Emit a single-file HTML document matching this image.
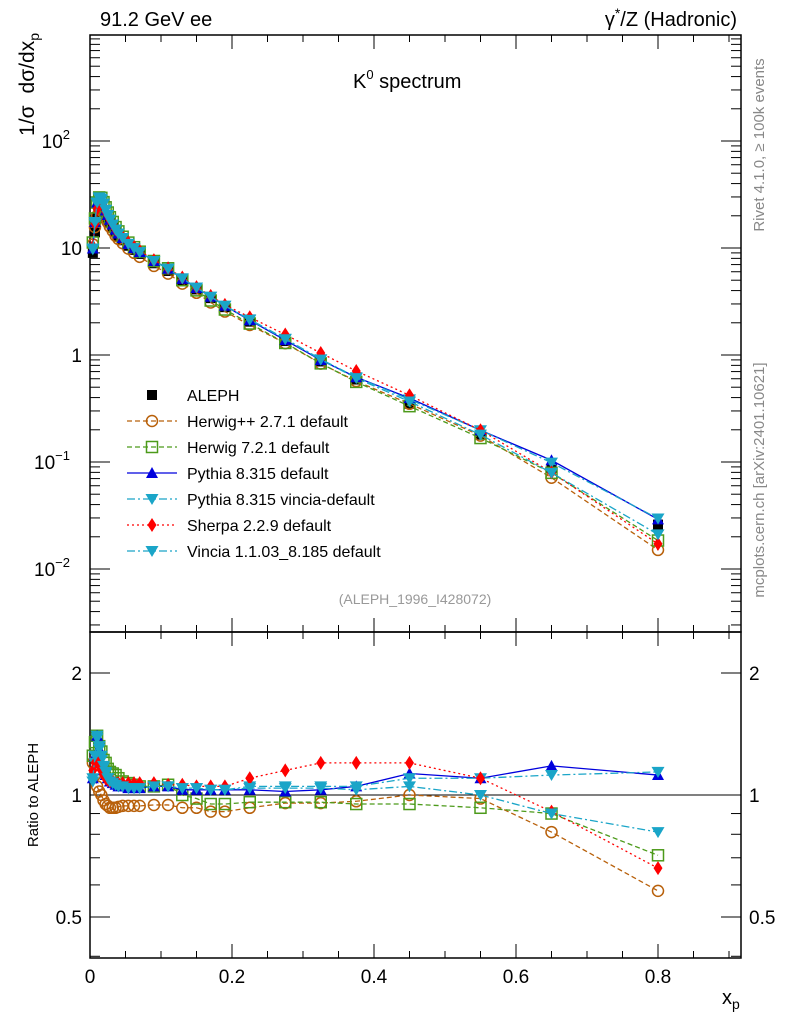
<!DOCTYPE html>
<html><head><meta charset="utf-8"><style>
body{margin:0;background:#fff;}
svg{display:block;font-family:"Liberation Sans",sans-serif;}
</style></head><body>
<svg id="c" width="786" height="1024" viewBox="0 0 786 1024"></svg>
<script>
const xs=[0.004,0.007,0.01,0.013,0.016,0.019,0.022,0.025,0.028,0.032,0.036,0.04,0.046,0.054,0.062,0.07,0.09,0.11,0.13,0.15,0.17,0.19,0.225,0.275,0.325,0.375,0.45,0.55,0.65,0.8];
const aleph=[9,14,19,22.5,23,22,20,18.5,17,15.5,14,13,11.8,10.5,9.6,8.8,7.2,6.1,5.0,4.1,3.4,2.8,2.05,1.35,0.87,0.59,0.35,0.18,0.088,0.026];
const rHerwigpp=[1.2,1.12,1.05,1.02,1.0,0.97,0.95,0.94,0.93,0.93,0.93,0.935,0.94,0.94,0.94,0.94,0.945,0.945,0.93,0.93,0.91,0.91,0.93,0.955,0.955,0.965,1.0,0.98,0.81,0.58];
const rHerwig7=[1.25,1.35,1.4,1.32,1.28,1.22,1.2,1.16,1.14,1.13,1.12,1.1,1.08,1.07,1.06,1.05,1.05,1.06,1.0,0.98,0.95,0.95,0.96,0.96,0.96,0.95,0.95,0.93,0.9,0.71];
const rPythia=[1.1,1.25,1.4,1.3,1.2,1.15,1.12,1.1,1.08,1.07,1.06,1.05,1.05,1.04,1.04,1.04,1.05,1.05,1.03,1.03,1.03,1.03,1.03,1.02,1.03,1.05,1.13,1.1,1.18,1.12];
const rVinciaDef=[1.08,1.2,1.38,1.3,1.22,1.17,1.13,1.1,1.08,1.07,1.06,1.05,1.05,1.04,1.04,1.04,1.05,1.05,1.04,1.04,1.03,1.03,1.05,1.05,1.05,1.05,1.1,1.1,1.12,1.14];
const rSherpa=[1.15,1.2,1.22,1.18,1.15,1.12,1.1,1.09,1.08,1.08,1.07,1.07,1.07,1.07,1.07,1.07,1.07,1.06,1.06,1.05,1.05,1.05,1.1,1.15,1.2,1.2,1.2,1.1,0.91,0.66];
const rVincia=[1.1,1.25,1.4,1.32,1.25,1.18,1.14,1.1,1.08,1.07,1.06,1.05,1.05,1.04,1.04,1.04,1.05,1.05,1.04,1.04,1.03,1.03,1.04,1.04,1.04,1.03,1.05,1.0,0.9,0.81];
const xTicks=[0,0.2,0.4,0.6,0.8];
const xTickLabels=["0","0.2","0.4","0.6","0.8"];
const legendLabels=["ALEPH","Herwig++ 2.7.1 default","Herwig 7.2.1 default","Pythia 8.315 default","Pythia 8.315 vincia-default","Sherpa 2.2.9 default","Vincia 1.1.03_8.185 default"];

const NS="http://www.w3.org/2000/svg";
const svg=document.getElementById('c');
const L=90,R=741,T=35,M=632,B=958;
const X=v=>L+v*710;
const Y=v=>355-107*Math.log10(v);
const YR=v=>795-405.3*Math.log10(v);
function el(tag,at,parent){const e=document.createElementNS(NS,tag);for(const k in at)e.setAttribute(k,at[k]);(parent||svg).appendChild(e);return e;}
function txt(s,at,parent){const e=el('text',at,parent);e.textContent=s;return e;}

let f1=el('rect',{x:L,y:T,width:R-L,height:M-T,fill:'none',stroke:'#000','stroke-width':1.5});


let f2=el('rect',{x:L,y:M,width:R-L,height:B-M,fill:'none',stroke:'#000','stroke-width':1.5});



const tg=el('g',{stroke:'#000','stroke-width':1});


for(let i=0;i<=18;i++){const v=i*0.05;const x=X(v);if(x>R)break;const big=i%4==0;const len=big?14:7;
 [[T,1],[M,-1],[M,1],[B,-1]].forEach(([y,d])=>el('line',{x1:x,x2:x,y1:y,y2:y+d*len},tg));}
const xl=el('g',{'font-size':19,'text-anchor':'middle'});


xTicks.forEach((v,i)=>txt(xTickLabels[i],{x:X(v),y:983},xl));
let xt=txt('x',{x:722,y:1004,'font-size':20});


const xsub=el('tspan',{'font-size':14,dy:5},xt);xsub.textContent='p';

const yg=el('g',{stroke:'#000','stroke-width':1});


for(let d=-3;d<3;d++)for(let m=1;m<10;m++){const v=m*Math.pow(10,d);const y=Y(v);if(y<T||y>M)continue;const len=m==1?20:10;
 el('line',{x1:L,x2:L+len,y1:y,y2:y},yg);el('line',{x1:R,x2:R-len,y1:y,y2:y},yg);}
const yl=el('g',{'font-size':19,'text-anchor':'end'});


function pow10(e,y){const t=txt('10',{x:70,y:y+7},yl);const s=el('tspan',{'font-size':13,dy:-9},t);s.textContent=e;}
pow10('2',Y(100));txt('10',{x:82,y:Y(10)+7},yl);txt('1',{x:82,y:Y(1)+7},yl);pow10('−1',Y(0.1));pow10('−2',Y(0.01));
let yt=el('text',{x:0,y:0,'font-size':21,'text-anchor':'end',transform:'translate(34,33) rotate(-90)'});


yt.innerHTML='1/σ<tspan dx="12">dσ/dx</tspan><tspan font-size="14" dy="5">p</tspan>';

const rg=el('g',{stroke:'#000','stroke-width':1});


[0.4,0.5,0.6,0.7,0.8,0.9,1,2].forEach(v=>{const y=YR(v);const big=(v==0.5||v==1||v==2);const len=big?20:10;el('line',{x1:L,x2:L+len,y1:y,y2:y},rg);el('line',{x1:R,x2:R-len,y1:y,y2:y},rg);});
const rl=el('g',{'font-size':19});


[[2,'2'],[1,'1'],[0.5,'0.5']].forEach(([v,s])=>{txt(s,{x:82,y:YR(v)+7,'text-anchor':'end'},rl);txt(s,{x:749,y:YR(v)+7},rl);});
let rt=txt('Ratio to ALEPH',{x:0,y:0,'font-size':15,transform:'translate(38,795) rotate(-90)','text-anchor':'middle'});


let one=el('line',{x1:L,x2:R,y1:YR(1),y2:YR(1),stroke:'#000','stroke-width':1});



let h1=txt('91.2 GeV ee',{x:100,y:26,'font-size':20});


let h2=el('text',{x:737,y:26,'font-size':20,'text-anchor':'end'});
h2.innerHTML='γ<tspan font-size="14" dy="-8">*</tspan><tspan dy="8">/Z (Hadronic)</tspan>';


let h3=el('text',{x:353,y:88,'font-size':20});
h3.innerHTML='K<tspan font-size="13" dy="-9">0</tspan><tspan dy="9"> spectrum</tspan>';


let h4=txt('(ALEPH_1996_I428072)',{x:415,y:604,'font-size':14,fill:'#999','text-anchor':'middle'});


let h5=txt('Rivet 4.1.0, ≥ 100k events',{x:0,y:0,'font-size':15,fill:'#888','text-anchor':'middle',transform:'translate(764,145) rotate(-90)'});


let h6=txt('mcplots.cern.ch [arXiv:2401.10621]',{x:0,y:0,'font-size':15,fill:'#888','text-anchor':'middle',transform:'translate(764,480) rotate(-90)'});



function marker(type,x,y,col,g){
 if(type=='sq')el('rect',{x:x-5,y:y-5,width:10,height:10,fill:'#000'},g);
 else if(type=='circ')el('circle',{cx:x,cy:y,r:5.5,fill:'none',stroke:col,'stroke-width':1.5},g);
 else if(type=='osq')el('rect',{x:x-5.5,y:y-5.5,width:11,height:11,fill:'none',stroke:col,'stroke-width':1.5},g);
 else if(type=='up')el('polygon',{points:`${x},${y-6} ${x-6},${y+5} ${x+6},${y+5}`,fill:col},g);
 else if(type=='dn')el('polygon',{points:`${x},${y+6} ${x-6.5},${y-5} ${x+6.5},${y-5}`,fill:col},g);
 else if(type=='dia')el('polygon',{points:`${x},${y-7} ${x-4.5},${y} ${x},${y+7} ${x+4.5},${y}`,fill:col},g);
}
const ag=el('g',{});


xs.forEach((x,i)=>marker('sq',X(x),Y(aleph[i]),'#000',ag));

const series=[
 {name:'herwigpp',r:rHerwigpp,col:'#b8600a',dash:'5,3',m:'circ'},
 {name:'herwig7',r:rHerwig7,col:'#4c9a1a',dash:'5,3',m:'osq'},
 {name:'pythia',r:rPythia,col:'#0000dd',dash:'',m:'up'},
 {name:'pythia-vincia',r:rVinciaDef,col:'#1aa5c8',dash:'8,3,2,3',m:'dn'},
 {name:'sherpa',r:rSherpa,col:'#ff0000',dash:'2,3',m:'dia'},
 {name:'vincia',r:rVincia,col:'#1aa5c8',dash:'8,3,2,3',m:'dn'}
];
series.forEach(s=>{
 const g=el('g',{});
 
 
 const pm=xs.map((x,i)=>X(x)+','+Y(aleph[i]*s.r[i])).join(' ');
 el('polyline',{points:pm,fill:'none',stroke:s.col,'stroke-width':1.3,'stroke-dasharray':s.dash},g);
 xs.forEach((x,i)=>marker(s.m,X(x),Y(aleph[i]*s.r[i]),s.col,g));
 const gr=el('g',{});
 
 
 const pr=xs.map((x,i)=>X(x)+','+YR(s.r[i])).join(' ');
 el('polyline',{points:pr,fill:'none',stroke:s.col,'stroke-width':1.3,'stroke-dasharray':s.dash},gr);
 xs.forEach((x,i)=>marker(s.m,X(x),YR(s.r[i]),s.col,gr));
});

const lg=el('g',{'font-size':16});


legendLabels.forEach((lab,i)=>{
 const y=395+i*26;
 const e=el('g',{},lg);
 
 
 if(i>0){const s=series[i-1];el('line',{x1:127,x2:177,y1:y,y2:y,stroke:s.col,'stroke-width':1.3,'stroke-dasharray':s.dash},e);marker(s.m,152,y,s.col,e);}
 else marker('sq',152,y,'#000',e);
 txt(lab,{x:187,y:y+6},e);
});
</script>
</body></html>
